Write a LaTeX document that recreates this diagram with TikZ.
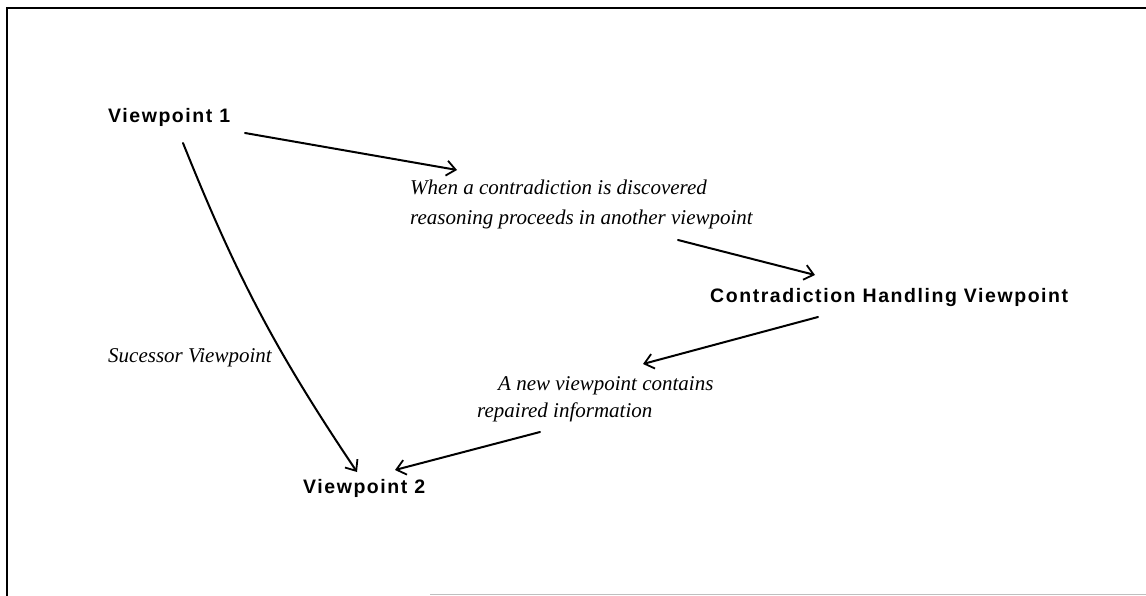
\documentclass[tikz,border=0pt]{standalone}
\usepackage{fontspec}
\setmainfont{Liberation Serif}
\setsansfont{Liberation Sans}
\usetikzlibrary{arrows.meta}
\begin{document}
\begin{tikzpicture}[x=1pt,y=-1pt,
  vp/.style={font=\sffamily\bfseries\fontsize{19.5}{22}\selectfont\addfontfeature{LetterSpace=8},
             inner sep=0pt, anchor=base west},
  note/.style={font=\itshape\fontsize{21}{27}\selectfont, inner sep=0pt, anchor=base west, align=left},
  link/.style={line width=2pt, line cap=round, -{Straight Barb[length=9pt,width=15pt,line width=1.8pt]}}]
  \useasboundingbox (0,0) rectangle (1146,596);
  % frame: solid left and top edges, faint bottom edge
  \draw[line width=2.4pt] (7,596) -- (7,8) -- (1146,8);
  \draw[line width=1pt, black!25] (430,594) -- (1146,594);

  % labels (the base anchor of a two-line note is its last line)
  \node[vp] (v1) at (108,123) {Viewpoint 1};
  \node[vp] (ch) at (710,302) {Contradiction Handling Viewpoint};
  \node[vp] (v2) at (303,493) {Viewpoint 2};
  \node[note, font=\itshape\fontsize{21}{30}\selectfont] (n1) at (410,225)
    {When a contradiction is discovered\\reasoning proceeds in another viewpoint};
  \node[note] (n2) at (477,417) {\hspace*{21pt}A new viewpoint contains\\repaired information};
  \node[note] (succ) at (108,362) {Sucessor Viewpoint};

  % connector end points
  \coordinate (a1) at (245,133);
  \coordinate (a2) at (457,170);
  \coordinate (b1) at (678,240);
  \coordinate (b2) at (815,275);
  \coordinate (c1) at (818,317);
  \coordinate (c2) at (643,364);
  \coordinate (e1) at (540,432);
  \coordinate (e2) at (395,470);
  \coordinate (d1) at (183,143);
  \coordinate (d2) at (357,472);

  \draw[link] (a1) -- (a2);
  \draw[link] (b1) -- (b2);
  \draw[link] (c1) -- (c2);
  \draw[link] (e1) -- (e2);
  \draw[link] (d1) to[bend right=6] (d2);
\end{tikzpicture}
\end{document}
